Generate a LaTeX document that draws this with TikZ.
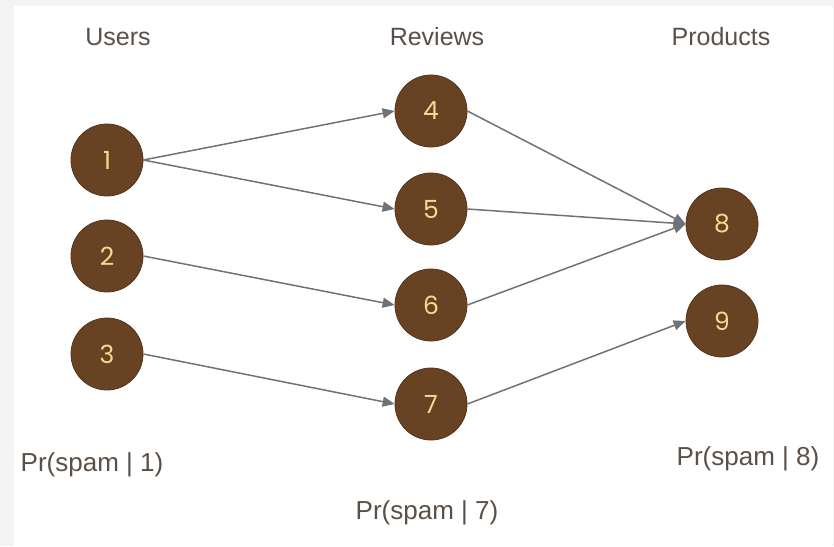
\documentclass[tikz,border=0pt]{standalone}
\usepackage{fontspec}
\setmainfont{Liberation Sans}
\newfontfamily\digitfont{Poppins}
\usepackage{xcolor}
\usetikzlibrary{arrows.meta,positioning}
\definecolor{ubrown}{HTML}{674223}
\definecolor{uedge}{HTML}{553519}
\definecolor{ugold}{HTML}{F8D892}
\definecolor{utext}{HTML}{5A5047}
\definecolor{uline}{HTML}{6F7377}
\definecolor{uframe}{HTML}{F3F3F3}

\begin{document}
\begin{tikzpicture}[
  x=1pt,y=-1pt,
  nd/.style={circle,fill=ubrown,draw=uedge,line width=0.8pt,minimum size=72pt,
             inner sep=0pt,text=ugold,font=\digitfont\fontsize{25}{27}\selectfont},
  hd/.style={text=utext,font=\fontsize{25}{29}\selectfont,inner sep=0pt},
  pr/.style={text=utext,font=\fontsize{26}{30}\selectfont,inner sep=0pt},
  a/.style={-{Triangle[length=12pt,width=10pt]},draw=uline,fill=uline,line width=1.5pt}
]
\fill[uframe] (0,0) rectangle (834,546);
\fill[white] (14,6) rectangle (833,546);
\useasboundingbox (0,0) rectangle (834,546);

% column headings
\node[hd] (husers) at (118,37) {Users};
\node[hd] (hrev) at (437,37) {Reviews};
\node[hd] (hprod) at (721,37) {Products};

% users
\node[nd] (u1) at (107,160) {1};
\node[nd] (u2) at (107,256) {2};
\node[nd] (u3) at (107,354) {3};

% reviews
\node[nd] (r4) at (431,111) {4};
\node[nd] (r5) at (431,209) {5};
\node[nd] (r6) at (431,305) {6};
\node[nd] (r7) at (431,404) {7};

% products
\node[nd] (p8) at (722,224) {8};
\node[nd] (p9) at (722,321) {9};

\node[pr] (pr1) at (92,465) {Pr(spam | 1)};
\node[pr] (pr7) at (427,513) {Pr(spam | 7)};
\node[pr] (pr8) at (748,459) {Pr(spam | 8)};

\foreach \a/\b in {u1/r4, u1/r5, u2/r6, u3/r7, r4/p8, r5/p8, r6/p8, r7/p9}
  {\draw[a] (\a.east) -- (\b.west);}
\end{tikzpicture}
\end{document}
